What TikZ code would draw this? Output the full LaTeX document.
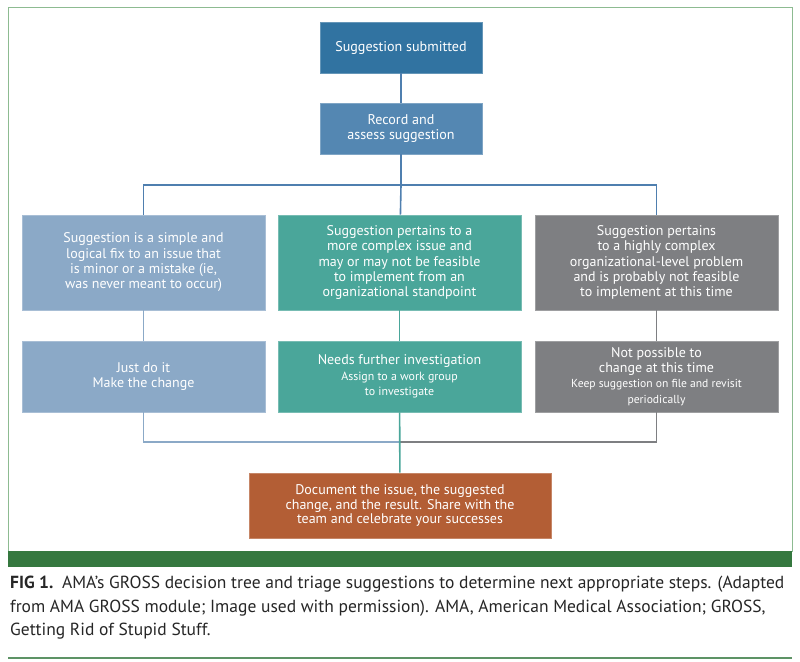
\documentclass[tikz,border=0pt]{standalone}
\usepackage{fontspec}
\setmainfont{PT Sans}
\usepackage{xcolor}
\usetikzlibrary{positioning}
\definecolor{cnavy}{HTML}{3173A1}
\definecolor{crecord}{HTML}{5487B2}
\definecolor{cline}{HTML}{4F7FAF}
\definecolor{csteel}{HTML}{8BA9C7}
\definecolor{cteal}{HTML}{4AA69A}
\definecolor{cgray}{HTML}{7E7F82}
\definecolor{crust}{HTML}{B35E35}
\definecolor{cframe}{HTML}{8DBB91}
\definecolor{cband}{HTML}{35783F}
\newcommand{\boxfont}{\fontsize{14}{15.3}\selectfont}
\newcommand{\subfont}{\fontsize{11.9}{13}\selectfont}
\newcommand{\tinyfont}{\fontsize{11.6}{12.5}\selectfont}

\begin{document}
\begin{tikzpicture}[
    x=1pt, y=-1pt,
    box/.style={align=center, text=white, inner sep=0pt, line width=0.7pt, font=\boxfont},
    head/.style={box, minimum width=162pt, minimum height=51pt, font=\fontsize{14.1}{15}\selectfont},
    col/.style={box, minimum width=243pt},
    tall/.style={col, minimum height=95pt},
    short/.style={col, minimum height=71pt},
    link/.style={line width=1.6pt},
]
\useasboundingbox (0,0) rectangle (800,661);

% frame and green band
\draw[cframe, line width=1pt] (8,8) rectangle (792,551);
\fill[cband] (8,551) rectangle (792,567);

% top of the tree
\node[head, fill=cnavy, draw=cnavy!75!white] (submit) at (401,47.5) {Suggestion submitted};
\node[head, fill=crecord, draw=crecord!75!white] (record) at (401,128.5) {Record and\\assess suggestion};

% three kinds of suggestion
\node[tall, fill=csteel, draw=csteel!75!white] (simple) at (143.5,262.5)
    {Suggestion is a simple and\\logical fix to an issue that\\is minor or a mistake (ie,\\was never meant to occur)};
\node[tall, fill=cteal, draw=cteal!75!white] (complex) at (399.5,262.5)
    {Suggestion pertains to a\\more complex issue and\\may or may not be feasible\\to implement from an\\organizational standpoint};
\node[tall, fill=cgray, draw=cgray!75!white] (hard) at (656.5,262.5)
    {Suggestion pertains\\to a highly complex\\organizational-level problem\\and is probably not feasible\\to implement at this time};

% what to do with each
\node[short, fill=csteel, draw=csteel!75!white] (justdo) at (143.5,376.5) {Just do it\\Make the change};
\node[short, fill=cteal, draw=cteal!75!white] (investigate) at (399.5,376.5)
    {Needs further investigation\\\subfont Assign to a work group\\\subfont to investigate};
\node[short, fill=cgray, draw=cgray!75!white] (notnow) at (656.5,376.5)
    {Not possible to\\change at this time\\\tinyfont Keep suggestion on file and revisit\\\tinyfont periodically};

% closing step
\node[box, fill=crust, draw=crust!75!white, minimum width=302pt, minimum height=65pt,
      font=\fontsize{14}{14.5}\selectfont] (document) at (400,505.5)
    {Document the issue, the suggested\\change, and the result. Share with the\\team and celebrate your successes};

% connectors
\coordinate (split) at (401,185);
\coordinate (merge) at (400,442);
\draw[link, cline] (submit) -- (record);
\draw[link, cline] (record) -- (split);
\draw[link, cline] (split) -| (simple);
\draw[link, cline] (split) -| (hard);
\draw[link, cline] (split) -- (complex);
\draw[link, csteel] (simple) -- (justdo);
\draw[link, cteal] (complex) -- (investigate);
\draw[link, cgray] (hard) -- (notnow);
\draw[link, csteel] (justdo) |- (merge);
\draw[link, cgray] (notnow) |- (merge);
\draw[link, cteal] (investigate) -- (document);

% caption
\node[anchor=north west, align=left, inner sep=0pt, text=black!85, font=\fontsize{17.5}{23.5}\selectfont] (caption) at (10,576)
    {\textbf{FIG 1.}\enspace AMA’s GROSS decision tree and triage suggestions to determine next appropriate steps. (Adapted\\
     from AMA GROSS module; Image used with permission). AMA, American Medical Association; GROSS,\\
     Getting Rid of Stupid Stuff.};
\draw[cband!80!white, line width=1.5pt] (8,658) -- (792,658);
\end{tikzpicture}
\end{document}
